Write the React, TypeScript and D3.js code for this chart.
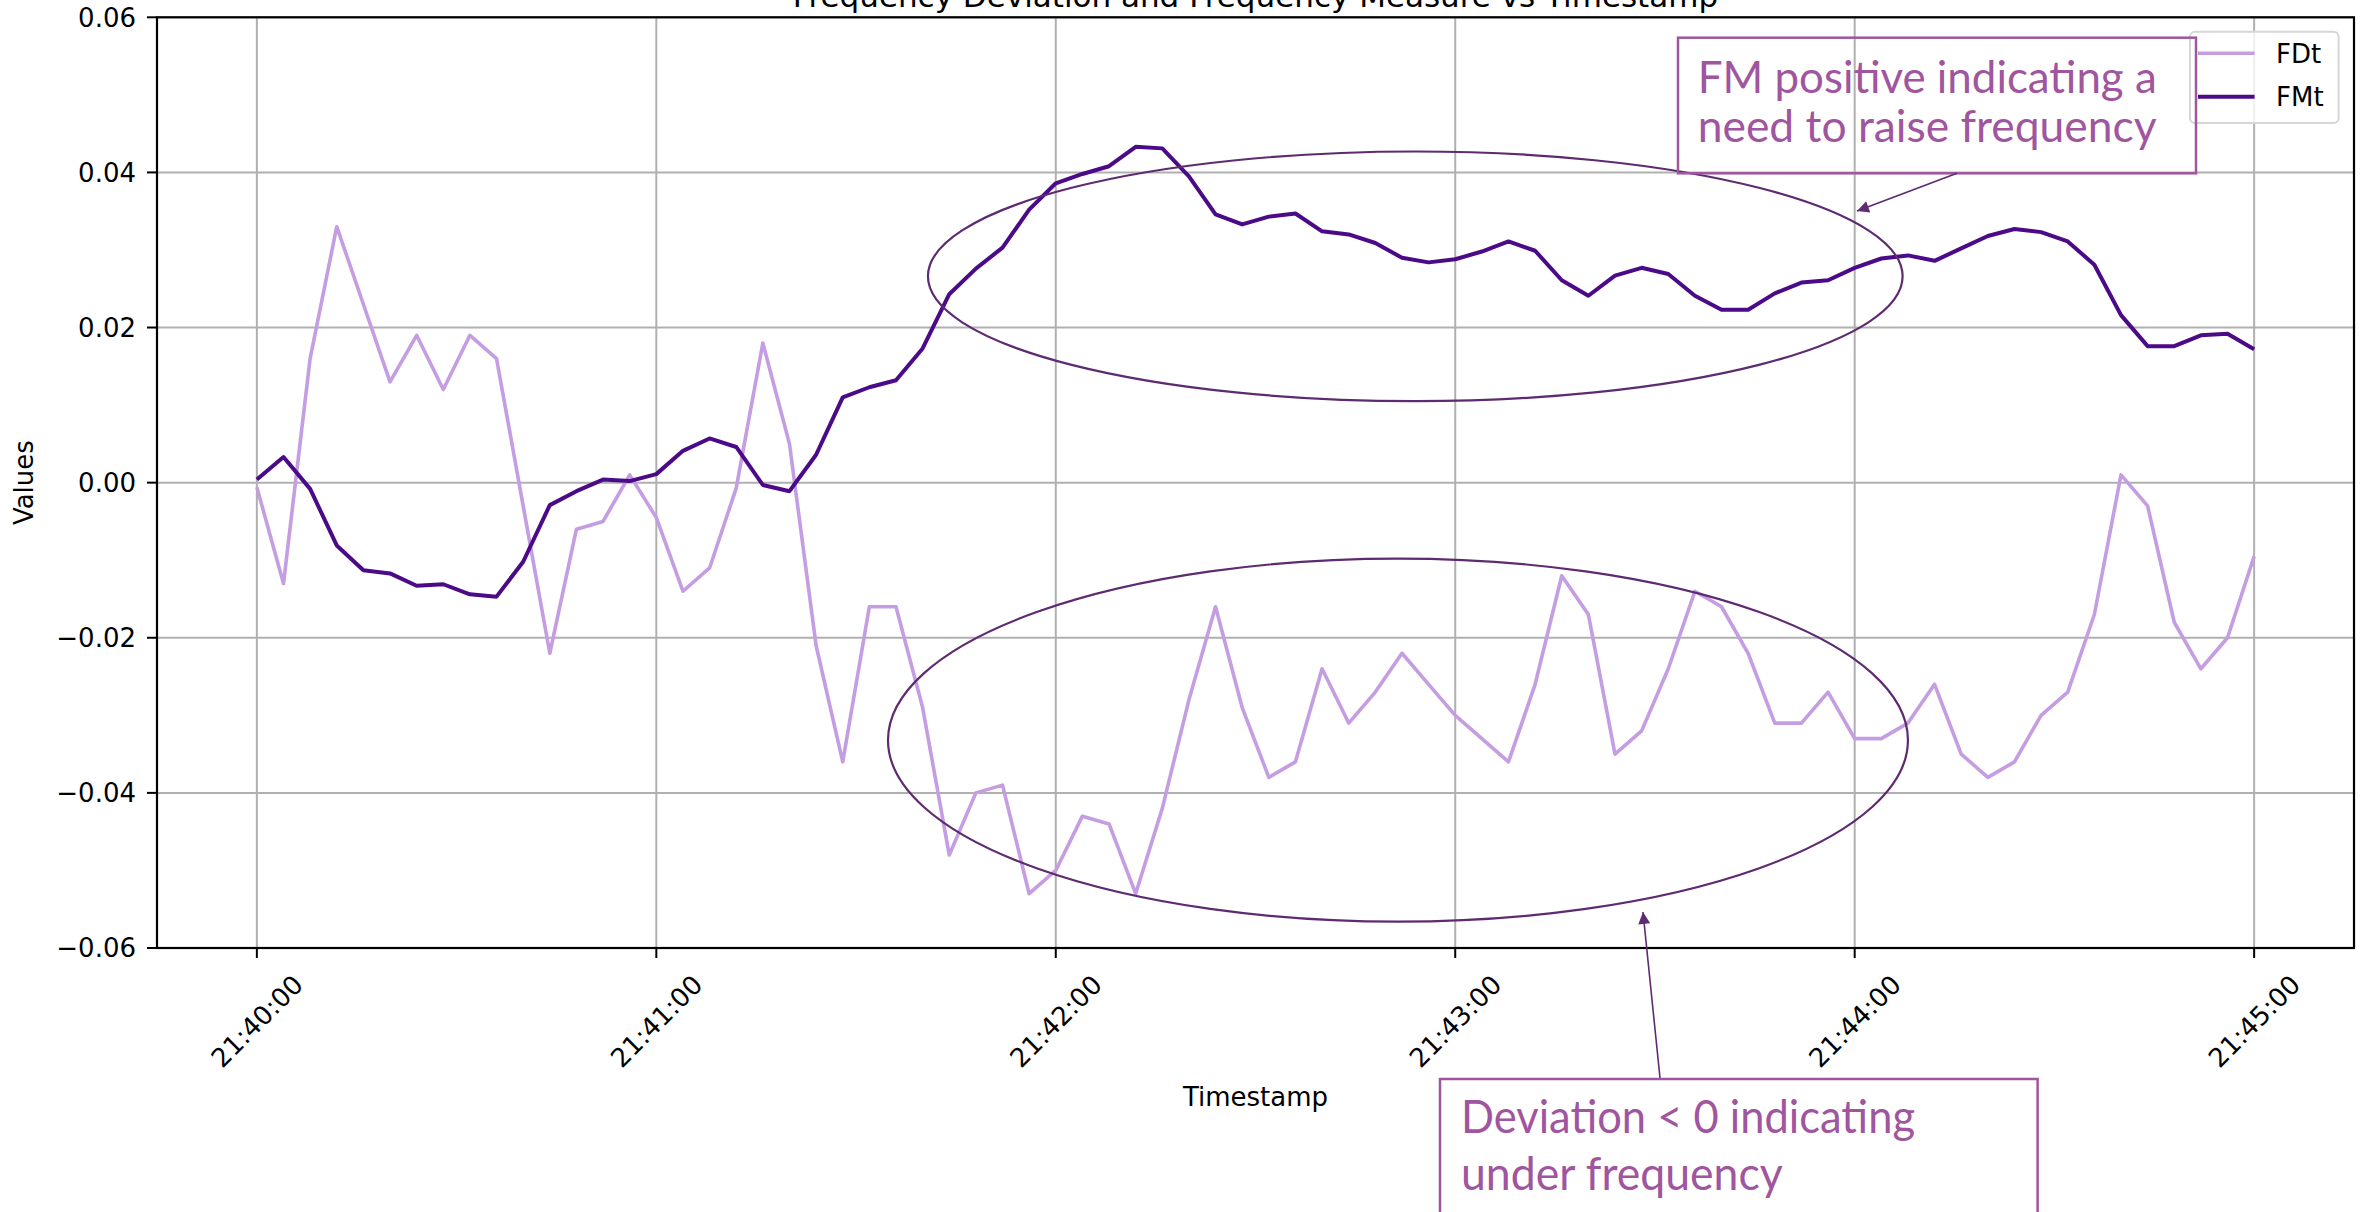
import React from 'react'
import * as d3 from 'd3'

// sampled every 4 seconds from 21:40:00 to 21:45:00
const startTime = '21:40:00'
const stepSeconds = 4

const fdt = [
    -0.0006, -0.013, 0.016, 0.033, 0.023, 0.013, 0.019, 0.012, 0.019, 0.016,
    -0.003, -0.022, -0.006, -0.005, 0.001, -0.0045, -0.014, -0.011, -0.0007, 0.018,
    0.005, -0.021, -0.036, -0.016, -0.016, -0.029, -0.048, -0.04, -0.039, -0.053,
    -0.05, -0.043, -0.044, -0.053, -0.042, -0.028, -0.016, -0.029, -0.038, -0.036,
    -0.024, -0.031, -0.027, -0.022, -0.026, -0.03, -0.033, -0.036, -0.026, -0.012,
    -0.017, -0.035, -0.032, -0.024, -0.014, -0.016, -0.022, -0.031, -0.031, -0.027,
    -0.033, -0.033, -0.031, -0.026, -0.035, -0.038, -0.036, -0.03, -0.027, -0.017,
    0.001, -0.003, -0.018, -0.024, -0.02, -0.0095,
]

const fmt = [
    0.0004, 0.0033, -0.0008, -0.0081, -0.0113, -0.0117, -0.0133, -0.0131, -0.0144, -0.0147,
    -0.0102, -0.0029, -0.0011, 0.0004, 0.0002, 0.0011, 0.0041, 0.0057, 0.0046, -0.0003,
    -0.0011, 0.0036, 0.011, 0.0123, 0.0132, 0.0173, 0.0243, 0.0276, 0.0303, 0.0352,
    0.0386, 0.0398, 0.0408, 0.0433, 0.0431, 0.0395, 0.0346, 0.0333, 0.0343, 0.0347,
    0.0324, 0.032, 0.0309, 0.029, 0.0284, 0.0288, 0.0298, 0.0311, 0.0299, 0.0261,
    0.0241, 0.0267, 0.0277, 0.0269, 0.0241, 0.0223, 0.0223, 0.0244, 0.0258, 0.0261,
    0.0277, 0.0289, 0.0293, 0.0286, 0.0302, 0.0318, 0.0327, 0.0323, 0.0311, 0.0281,
    0.0216, 0.0176, 0.0176, 0.019, 0.0192, 0.0172,
]

const xTickLabels = ['21:40:00', '21:41:00', '21:42:00', '21:43:00', '21:44:00', '21:45:00']
const yTicks = [-0.06, -0.04, -0.02, 0, 0.02, 0.04, 0.06]
const seriesNames = ['FDt', 'FMt']
const seriesColors = ['#c49de2', '#4b0a88']

const width = 2366
const height = 1212
const left = 157
const right = 2354
const top = 17.3
const bottom = 948

const font = 'DejaVu Sans, sans-serif'
const noteFont = 'Lato, sans-serif'
const noteColor = '#a0559f'
const ringColor = '#5e2a70'

export default function App() {
    const parse = d3.timeParse('%H:%M:%S')
    const t0 = parse(startTime)
    const times = fdt.map((_, i) => new Date(t0.getTime() + i * stepSeconds * 1000))
    const tEnd = times[times.length - 1]
    const pad = (tEnd.getTime() - t0.getTime()) * 0.05

    const x = d3
        .scaleTime()
        .domain([new Date(t0.getTime() - pad), new Date(tEnd.getTime() + pad)])
        .range([left, right])
    const y = d3.scaleLinear().domain([-0.06, 0.06]).range([bottom, top])

    const line = d3
        .line<number>()
        .x((d, i) => x(times[i]))
        .y((d) => y(d))

    const fmtTick = (v: number) => (v < 0 ? '\u2212' : '') + Math.abs(v).toFixed(2)
    const xTicks = xTickLabels.map((s) => parse(s))

    // ellipses in data units: centre seconds after start, value, half-width seconds, half-height value
    const sec = (s: number) => new Date(t0.getTime() + s * 1000)
    const rings = [
        { cx: 174, cy: 0.0266, rx: 73.2, ry: 0.0161 },
        { cx: 171.4, cy: -0.0332, rx: 76.6, ry: 0.0234 },
    ]

    return (
        <svg
            width={width}
            height={height}
            style={{ position: 'absolute', left: 0, top: 0, background: '#fff' }}
        >
            <defs>
                <marker
                    id="head"
                    viewBox="0 0 10 10"
                    refX="10"
                    refY="5"
                    markerWidth="18"
                    markerHeight="12"
                    markerUnits="userSpaceOnUse"
                    orient="auto"
                >
                    <path d="M0,0 L10,5 L0,10 z" fill={ringColor} />
                </marker>
            </defs>
            <rect x={0} y={0} width={width} height={height} fill="#fff" />

            <text
                x={(left + right) / 2}
                y={7}
                textAnchor="middle"
                fontFamily={font}
                fontSize={31}
                fill="#000"
            >
                Frequency Deviation and Frequency Measure vs Timestamp
            </text>

            {/* grid */}
            {xTicks.map((t, i) => (
                <line key={'gx' + i} x1={x(t)} x2={x(t)} y1={top} y2={bottom} stroke="#b0b0b0" strokeWidth={2} />
            ))}
            {yTicks.map((v, i) => (
                <line key={'gy' + i} x1={left} x2={right} y1={y(v)} y2={y(v)} stroke="#b0b0b0" strokeWidth={2} />
            ))}

            {/* series */}
            <path d={line(fdt)} fill="none" stroke={seriesColors[0]} strokeWidth={3.6} strokeLinejoin="round" />
            <path d={line(fmt)} fill="none" stroke={seriesColors[1]} strokeWidth={4} strokeLinejoin="round" />

            {/* spines */}
            <rect x={left} y={top} width={right - left} height={bottom - top} fill="none" stroke="#000" strokeWidth={2.2} />

            {/* y ticks */}
            {yTicks.map((v, i) => (
                <g key={'yt' + i}>
                    <line x1={left - 10} x2={left} y1={y(v)} y2={y(v)} stroke="#000" strokeWidth={2} />
                    <text
                        x={left - 21}
                        y={y(v)}
                        dy="0.36em"
                        textAnchor="end"
                        fontFamily={font}
                        fontSize={26}
                        fill="#000"
                    >
                        {fmtTick(v)}
                    </text>
                </g>
            ))}

            {/* x ticks */}
            {xTicks.map((t, i) => (
                <g key={'xt' + i}>
                    <line x1={x(t)} x2={x(t)} y1={bottom} y2={bottom + 10} stroke="#000" strokeWidth={2} />
                    <text
                        transform={`translate(${x(t)},${1021}) rotate(-45)`}
                        textAnchor="middle"
                        dy="0.36em"
                        fontFamily={font}
                        fontSize={26}
                        fill="#000"
                    >
                        {xTickLabels[i]}
                    </text>
                </g>
            ))}

            <text x={(left + right) / 2} y={1106} textAnchor="middle" fontFamily={font} fontSize={26} fill="#000">
                Timestamp
            </text>
            <text
                transform={`translate(33,${(top + bottom) / 2}) rotate(-90)`}
                textAnchor="middle"
                fontFamily={font}
                fontSize={26}
                fill="#000"
            >
                Values
            </text>

            {/* legend */}
            <rect x={2190} y={31.7} width={148.6} height={91.3} rx={5} fill="#fff" fillOpacity={0.8} stroke="#d6d6d6" strokeWidth={2} />
            {seriesNames.map((name, i) => (
                <g key={name}>
                    <line
                        x1={2198}
                        x2={2254.6}
                        y1={53.3 + i * 43.4}
                        y2={53.3 + i * 43.4}
                        stroke={seriesColors[i]}
                        strokeWidth={i === 0 ? 3.6 : 4}
                    />
                    <text x={2276} y={53.3 + i * 43.4} dy="0.36em" fontFamily={font} fontSize={26} fill="#000">
                        {name}
                    </text>
                </g>
            ))}

            {/* annotations */}
            {rings.map((r, i) => (
                <ellipse
                    key={'r' + i}
                    cx={x(sec(r.cx))}
                    cy={y(r.cy)}
                    rx={x(sec(r.cx + r.rx)) - x(sec(r.cx))}
                    ry={y(0) - y(r.ry)}
                    fill="none"
                    stroke={ringColor}
                    strokeWidth={2.2}
                />
            ))}

            <rect x={1678} y={37.7} width={518} height={135.6} fill="none" stroke={noteColor} strokeWidth={2.5} />
            <text fontFamily={noteFont} fontSize={44} fill={noteColor}>
                <tspan x={1697.7} y={93} textLength={459} lengthAdjust="spacingAndGlyphs">
                    FM positive indicating a
                </tspan>
                <tspan x={1697.7} y={142} textLength={459} lengthAdjust="spacingAndGlyphs">
                    need to raise frequency
                </tspan>
            </text>
            <line x1={1957} y1={173.3} x2={1857} y2={211} stroke={ringColor} strokeWidth={1.6} markerEnd="url(#head)" />

            <rect x={1440} y={1079} width={597.6} height={160} fill="none" stroke={noteColor} strokeWidth={2.5} />
            <text fontFamily={noteFont} fontSize={47} fill={noteColor}>
                <tspan x={1461} y={1133} textLength={454} lengthAdjust="spacingAndGlyphs">
                    Deviation &lt; 0 indicating
                </tspan>
                <tspan x={1461} y={1190} textLength={321.7} lengthAdjust="spacingAndGlyphs">
                    under frequency
                </tspan>
            </text>
            <line x1={1660} y1={1078} x2={1643} y2={912} stroke={ringColor} strokeWidth={1.6} markerEnd="url(#head)" />
        </svg>
    )
}
